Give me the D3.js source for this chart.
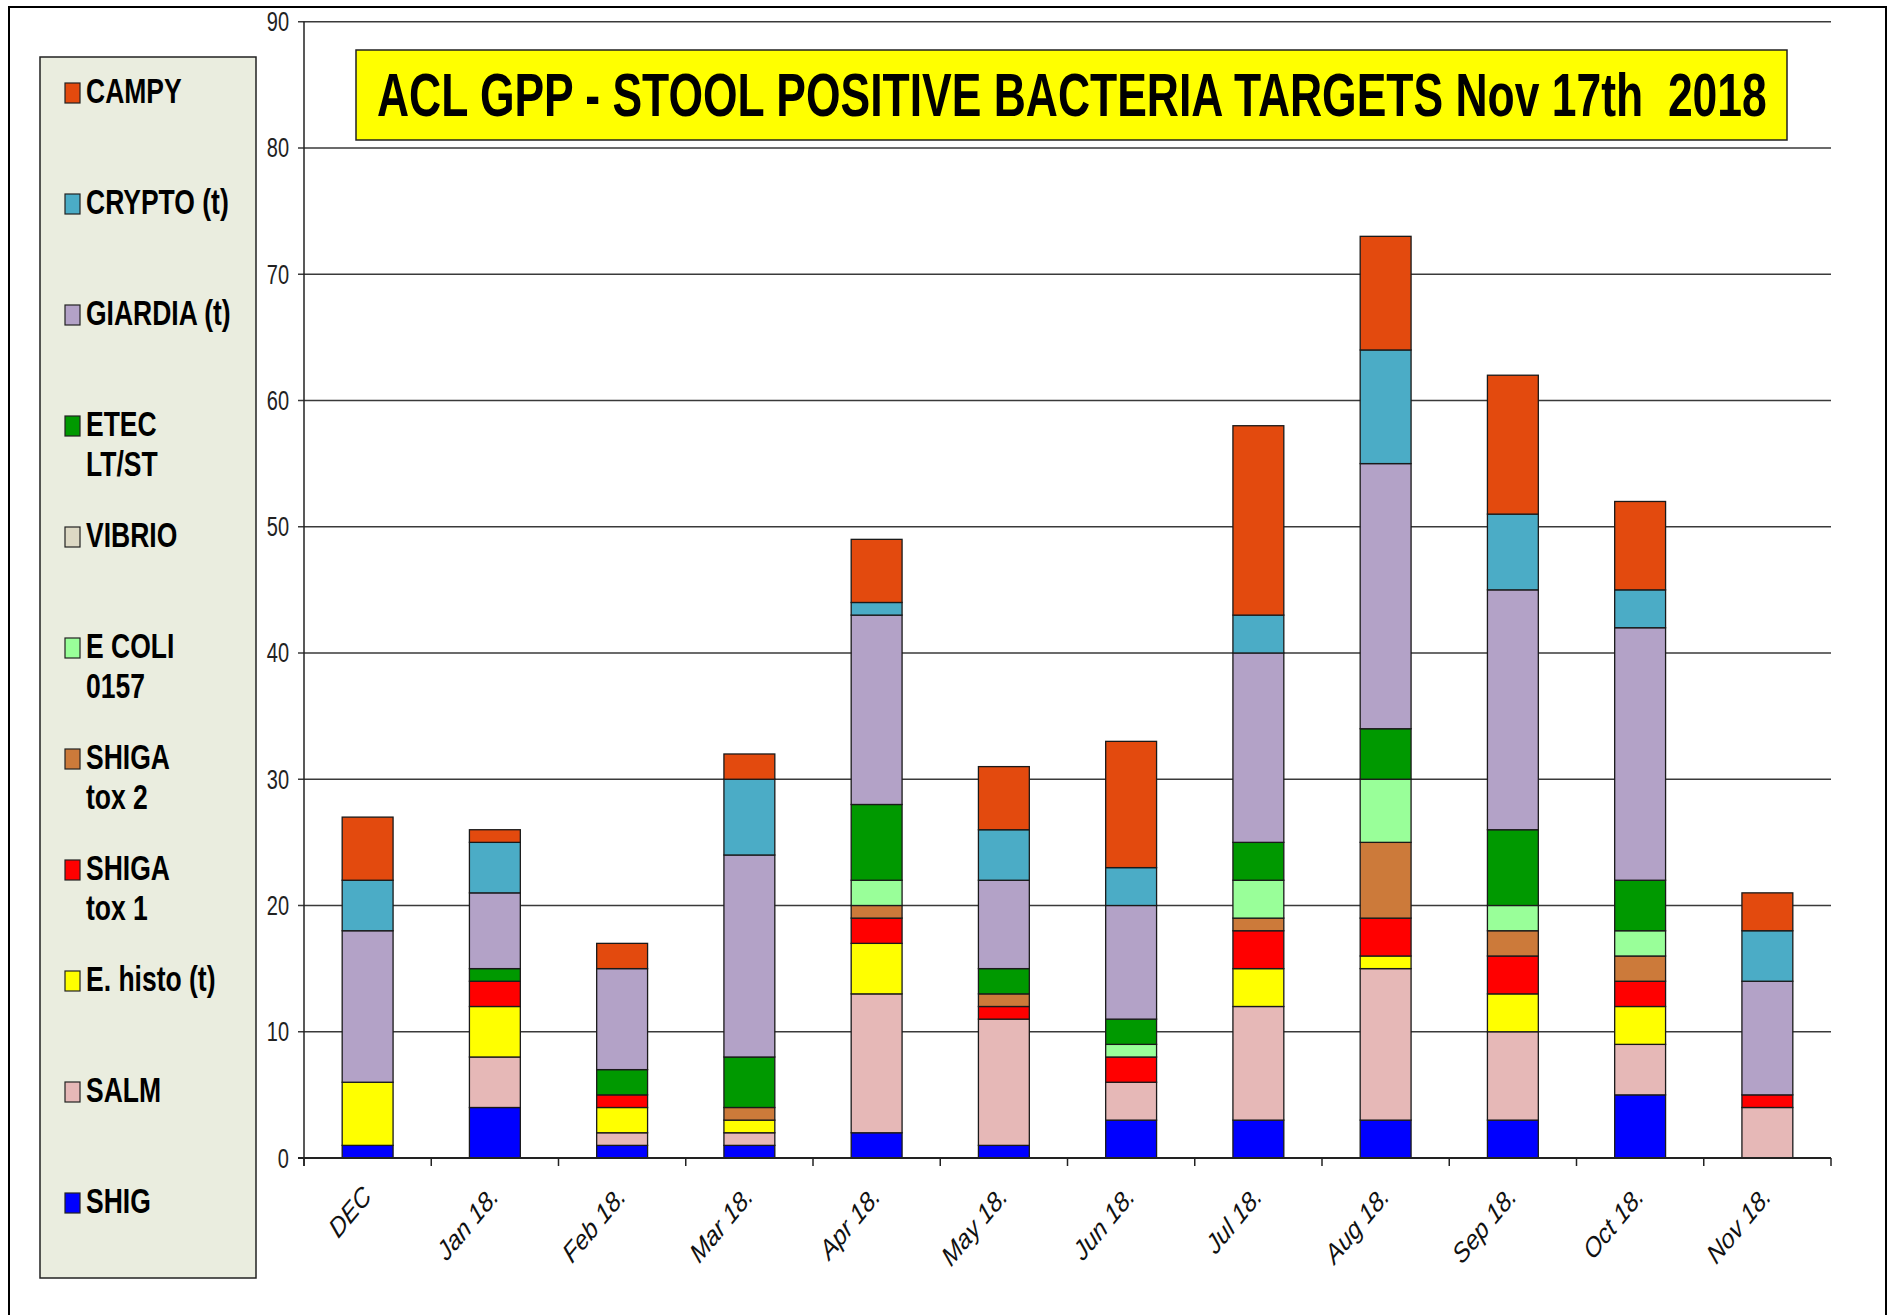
<!DOCTYPE html>
<html>
<head>
<meta charset="utf-8">
<script src="https://cdn.jsdelivr.net/npm/d3@7"></script>
<style>
  html, body { margin: 0; padding: 0; background: #fff; }
  svg { display: block; }
  text { font-family: "Liberation Sans", Arial, sans-serif; }
</style>
</head>
<body>
<svg id="chart" width="1891" height="1315"></svg>
<script>
// ---------- data ----------
const categories = ["DEC", "Jan 18.", "Feb 18.", "Mar 18.", "Apr 18.", "May 18.", "Jun 18.", "Jul 18.", "Aug 18.", "Sep 18.", "Oct 18.", "Nov 18."];
const seriesNames = ["SHIG", "SALM", "E. histo (t)", "SHIGA tox 1", "SHIGA tox 2", "E COLI 0157", "VIBRIO", "ETEC LT/ST", "GIARDIA (t)", "CRYPTO (t)", "CAMPY"];
const legendLines = [["SHIG"], ["SALM"], ["E. histo (t)"], ["SHIGA", "tox 1"], ["SHIGA", "tox 2"], ["E COLI", "0157"], ["VIBRIO"], ["ETEC", "LT/ST"], ["GIARDIA (t)"], ["CRYPTO (t)"], ["CAMPY"]];
const seriesColors = ["#0000ff", "#e6b8b7", "#ffff00", "#ff0000", "#cc7a3a", "#99ff99", "#ddd9c4", "#009900", "#b3a2c7", "#4bacc6", "#e34a0e"];

const SHIG    = [1, 4, 1, 1, 2, 1, 3, 3, 3, 3, 5, 0];
const SALM    = [0, 4, 1, 1, 11, 10, 3, 9, 12, 7, 4, 4];
const EHISTO  = [5, 4, 2, 1, 4, 0, 0, 3, 1, 3, 3, 0];
const TOX1    = [0, 2, 1, 0, 2, 1, 2, 3, 3, 3, 2, 1];
const TOX2    = [0, 0, 0, 1, 1, 1, 0, 1, 6, 2, 2, 0];
const ECOLI   = [0, 0, 0, 0, 2, 0, 1, 3, 5, 2, 2, 0];
const VIBRIO  = [0, 0, 0, 0, 0, 0, 0, 0, 0, 0, 0, 0];
const ETEC    = [0, 1, 2, 4, 6, 2, 2, 3, 4, 6, 4, 0];
const GIARDIA = [12, 6, 8, 16, 15, 7, 9, 15, 21, 19, 20, 9];
const CRYPTO  = [4, 4, 0, 6, 1, 4, 3, 3, 9, 6, 3, 4];
const CAMPY   = [5, 1, 2, 2, 5, 5, 10, 15, 9, 11, 7, 3];

const yTicks = [0, 10, 20, 30, 40, 50, 60, 70, 80, 90];
const titleText = "ACL GPP - STOOL POSITIVE BACTERIA TARGETS Nov 17th  2018";

// ---------- build ----------
const seriesValues = [SHIG, SALM, EHISTO, TOX1, TOX2, ECOLI, VIBRIO, ETEC, GIARDIA, CRYPTO, CAMPY];
const rows = categories.map((c, i) => {
  const r = { cat: c };
  seriesNames.forEach((s, j) => r[s] = seriesValues[j][i]);
  return r;
});

const svg = d3.select("#chart");

// outer frame (no bottom edge)
svg.append("path")
  .attr("d", "M9,1315 L9,7 L1886,7 L1886,1315")
  .attr("fill", "none").attr("stroke", "#000").attr("stroke-width", 2);

const plotL = 304, plotR = 1831, plotT = 21.7, plotB = 1158;
const x = d3.scaleBand().domain(categories).range([plotL, plotR]).paddingInner(0.6).paddingOuter(0.3);
const y = d3.scaleLinear().domain([0, 90]).range([plotB, plotT]);

// gridlines
svg.append("g").selectAll("line").data(yTicks).join("line")
  .attr("x1", plotL - 6).attr("x2", plotR)
  .attr("y1", d => y(d)).attr("y2", d => y(d))
  .attr("stroke", "#3a3a3a").attr("stroke-width", 1.6);

// y axis line
svg.append("line").attr("x1", plotL).attr("x2", plotL).attr("y1", plotT).attr("y2", plotB + 8)
  .attr("stroke", "#222").attr("stroke-width", 1.5);

// y tick labels
svg.append("g").selectAll("text").data(yTicks).join("text")
  .attr("transform", d => `translate(289,${y(d) + 9.5}) scale(1,1.35)`)
  .attr("text-anchor", "end")
  .attr("font-size", 20)
  .attr("fill", "#222")
  .text(d => d);

// x tick marks at category boundaries
const step = x.step();
const bounds = d3.range(categories.length + 1).map(i => plotL + i * step);
svg.append("g").selectAll("line").data(bounds).join("line")
  .attr("x1", d => d).attr("x2", d => d)
  .attr("y1", plotB).attr("y2", plotB + 8)
  .attr("stroke", "#222").attr("stroke-width", 1.5);

// stacked bars
const stack = d3.stack().keys(seriesNames);
const stacked = stack(rows);
const color = d3.scaleOrdinal().domain(seriesNames).range(seriesColors);

svg.append("g").selectAll("g").data(stacked).join("g")
  .attr("fill", d => color(d.key))
  .selectAll("rect").data(d => d.filter(p => p[1] - p[0] > 0)).join("rect")
  .attr("x", d => x(d.data.cat))
  .attr("width", x.bandwidth())
  .attr("y", d => y(d[1]))
  .attr("height", d => y(d[0]) - y(d[1]))
  .attr("stroke", "#1a1a1a").attr("stroke-width", 1.3);

// x axis baseline
svg.append("line").attr("x1", plotL - 6).attr("x2", plotR).attr("y1", plotB).attr("y2", plotB)
  .attr("stroke", "#222").attr("stroke-width", 1.8);

// x labels
svg.append("g").selectAll("text").data(categories).join("text")
  .attr("transform", d => `translate(${x(d) + x.bandwidth() / 2 + 5},${plotB + 40}) scale(1,1.2) rotate(-45)`)
  .attr("text-anchor", "end")
  .attr("font-size", 23)
  .attr("font-style", "italic")
  .attr("fill", "#111")
  .text(d => d);

// title box
svg.append("rect").attr("x", 356).attr("y", 50).attr("width", 1431).attr("height", 90)
  .attr("fill", "#ffff00").attr("stroke", "#222").attr("stroke-width", 1.5);
const title = svg.append("text")
  .attr("font-size", 62).attr("font-weight", "bold")
  .style("white-space", "pre")
  .attr("fill", "#000")
  .text(titleText);
const tw = title.node().getComputedTextLength();
title.attr("transform", `translate(377,116) scale(${1390 / tw},1)`);

// legend
svg.append("rect").attr("x", 40).attr("y", 57).attr("width", 216).attr("height", 1221)
  .attr("fill", "#eaeddf").attr("stroke", "#222").attr("stroke-width", 1.5);

const legendOrder = d3.range(seriesNames.length).reverse();
const lg = svg.append("g").selectAll("g").data(legendOrder).join("g")
  .attr("transform", (d, i) => `translate(0,${103 + i * 111})`);
lg.append("rect")
  .attr("x", 65).attr("y", -20).attr("width", 15).attr("height", 20)
  .attr("fill", d => seriesColors[d]).attr("stroke", "#222").attr("stroke-width", 1.2);
lg.each(function(d) {
  const g = d3.select(this);
  legendLines[d].forEach((line, k) => {
    g.append("text")
      .attr("transform", `translate(86,${k * 40}) scale(1,1.3)`)
      .attr("font-size", 26.5).attr("font-weight", "bold")
      .attr("fill", "#000")
      .text(line);
  });
});
</script>
</body>
</html>
